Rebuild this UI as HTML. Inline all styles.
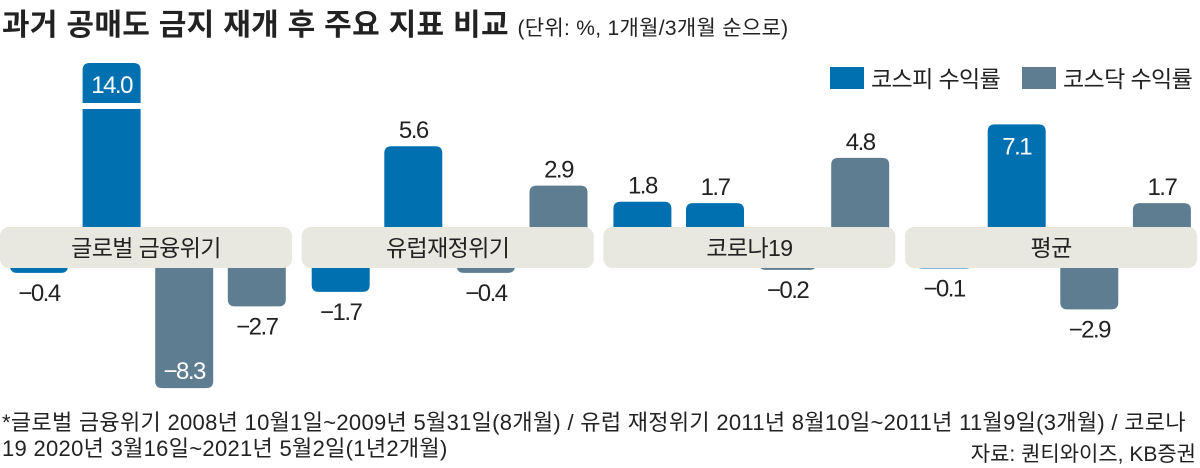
<!DOCTYPE html>
<html><head><meta charset="utf-8">
<style>
html,body{margin:0;padding:0;background:#fff;}
body{width:1200px;height:466px;overflow:hidden;position:relative;font-family:"Liberation Sans","Noto Sans CJK KR",sans-serif;color:#222;}
#title{position:absolute;left:2px;top:0px;font-size:30px;font-weight:bold;letter-spacing:0.3px;white-space:nowrap;font-family:"Liberation Sans","Noto Sans CJK KR",sans-serif;}
#title span{font-size:21px;font-weight:normal;letter-spacing:0.3px;}
.fn{position:absolute;font-size:22px;letter-spacing:0.3px;white-space:nowrap;color:#222;}
</style></head><body>
<div id="title">과거 공매도 금지 재개 후 주요 지표 비교 <span>(단위: %, 1개월/3개월 순으로)</span></div>
<svg id="chart" width="1200" height="400" style="position:absolute;left:0;top:0" font-family="Liberation Sans, Noto Sans CJK KR, sans-serif">
  <g>
    <rect x="830" y="67" width="34" height="22" fill="#0070b0"/>
    <text x="871" y="87" font-size="23" fill="#222" letter-spacing="-0.6">코스피 수익률</text>
    <rect x="1022" y="67" width="34" height="22" fill="#5f7d91"/>
    <text x="1063" y="87" font-size="23" fill="#222" letter-spacing="-0.6">코스닥 수익률</text>
  </g>
  <g id="bars"></g>
</svg>
<div class="fn" style="left:2px;top:405px">*글로벌 금융위기 2008년 10월1일~2009년 5월31일(8개월) / 유럽 재정위기 2011년 8월10일~2011년 11월9일(3개월) / 코로나</div>
<div class="fn" style="left:2px;top:431px">19 2020년 3월16일~2021년 5월2일(1년2개월)</div>
<div class="fn" style="right:4px;top:438px;font-size:21px;letter-spacing:0">자료: 퀀티와이즈, KB증권</div>
<script>
const groups = ["글로벌 금융위기", "유럽재정위기", "코로나19", "평균"];
const kospi1m = [-0.4, -1.7, 1.8, -0.1];
const kospi3m = [14.0, 5.6, 1.7, 7.1];
const kosdaq1m = [-8.3, -0.4, -0.2, -2.9];
const kosdaq3m = [-2.7, 2.9, 4.8, 1.7];

const NS = "http://www.w3.org/2000/svg";
const g = document.getElementById("bars");
const posBase = 228, negBase = 267, unit = 14.6, capTop = 63;
const groupX = i => 10 + i * 301.7;
const barX = (i, j) => groupX(i) + j * 72.6;
const barW = 58;
const colors = ["#0070b0", "#0070b0", "#5f7d91", "#5f7d91"];
const series = [kospi1m, kospi3m, kosdaq1m, kosdaq3m];
const names = ["kospi-1m", "kospi-3m", "kosdaq-1m", "kosdaq-3m"];
function yPos(v){ return posBase - v * unit; }
function yNeg(v){ return negBase - v * unit; }
function mk(tag, attrs){ const e = document.createElementNS(NS, tag); for (const k in attrs) e.setAttribute(k, attrs[k]); return e; }
function fmt(v){ return (v < 0 ? "\u2212" + Math.abs(v).toFixed(1) : v.toFixed(1)); }

groups.forEach((name, i) => {
  series.forEach((s, j) => {
    const v = s[i];
    const x = barX(i, j);
    let top, bot, capped = false;
    if (v >= 0) { top = yPos(v); bot = posBase + 6; if (top < capTop) { top = capTop; capped = true; } }
    else { top = negBase - 6; bot = yNeg(v); }
    const inside = Math.abs(v) >= 7;
    const r = 7;
    const path = v >= 0
      ? `M${x},${bot} L${x},${top + r} Q${x},${top} ${x + r},${top} L${x + barW - r},${top} Q${x + barW},${top} ${x + barW},${top + r} L${x + barW},${bot} Z`
      : `M${x},${top} L${x + barW},${top} L${x + barW},${Math.max(bot - r, top)} Q${x + barW},${bot} ${x + barW - r},${bot} L${x + r},${bot} Q${x},${bot} ${x},${Math.max(bot - r, top)} Z`;
    const bar = mk("path", { d: path, fill: colors[j] });
    
    
    g.appendChild(bar);
    if (capped) {
      const brk = mk("rect", { x: x - 1, y: capTop + 40, width: barW + 2, height: 6, fill: "#fff" });
      
      
      g.appendChild(brk);
    }
    let ty, fill = "#222";
    if (inside) { fill = "#fff"; ty = v >= 0 ? top + 30 : bot - 9; }
    else { ty = v >= 0 ? top - 8 : bot + 28; }
    const t = mk("text", { x: x + barW / 2, y: ty, "text-anchor": "middle", "font-size": 24, fill: fill, "letter-spacing": "-1.5" });
    t.textContent = fmt(v);
    
    
    g.appendChild(t);
  });
  const bx = groupX(i) - 10;
  const band = mk("rect", { x: bx, y: posBase - 1, width: 292, height: 41, rx: 9, fill: "#e8e7e0" });
  
  
  g.appendChild(band);
  const lt = mk("text", { x: bx + 146, y: posBase + 28, "text-anchor": "middle", "font-size": 23, fill: "#222", "letter-spacing": "-0.6" });
  lt.textContent = name;
  
  
  g.appendChild(lt);
});
</script>
</body></html>
